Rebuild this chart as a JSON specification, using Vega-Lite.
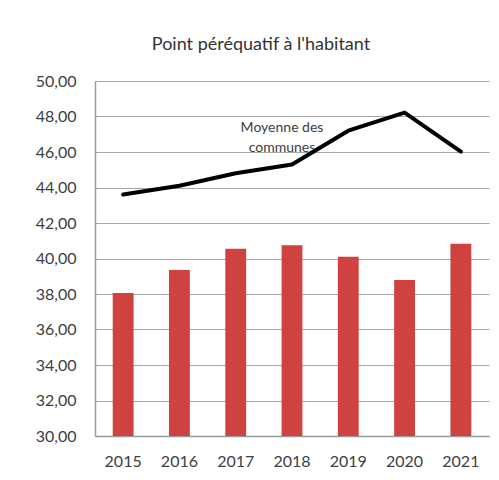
{
  "$schema": "https://vega.github.io/schema/vega-lite/v6.json",
  "width": 394,
  "height": 355,
  "autosize": "none",
  "padding": {"left": 95, "top": 81, "right": 10, "bottom": 44},
  "background": "white",
  "config": {
    "locale": {"number": {"decimal": ",", "thousands": " ", "grouping": [3], "currency": ["", " €"]}},
    "font": "Lato",
    "view": {"stroke": null},
    "axisY": {
      "format": ".2f",
      "labelOverlap": false,
      "labelFontSize": 16,
      "labelColor": "#404040",
      "labelPadding": 19,
      "ticks": false,
      "grid": true,
      "gridColor": "#a6a6a6",
      "gridWidth": 1.2,
      "domainColor": "#9a9a9a",
      "domainWidth": 1.5
    }
  },
  "title": {
    "text": "Point péréquatif à l'habitant",
    "fontSize": 18,
    "fontWeight": "normal",
    "color": "#333333",
    "anchor": "middle",
    "dx": -31,
    "baseline": "alphabetic",
    "offset": 5
  },
  "data": {
    "values": [
      {"annee": "2015", "commune": 38.06, "moyenne": 43.6},
      {"annee": "2016", "commune": 39.35, "moyenne": 44.1},
      {"annee": "2017", "commune": 40.55, "moyenne": 44.8},
      {"annee": "2018", "commune": 40.74, "moyenne": 45.3},
      {"annee": "2019", "commune": 40.1, "moyenne": 47.2},
      {"annee": "2020", "commune": 38.79, "moyenne": 48.22},
      {"annee": "2021", "commune": 40.83, "moyenne": 46.02}
    ]
  },
  "encoding": {
    "x": {
      "field": "annee",
      "type": "ordinal",
      "title": null,
      "scale": {"paddingInner": 0.63, "paddingOuter": 0.315},
      "axis": {
        "labelAngle": 0,
        "labelFontSize": 16,
        "labelColor": "#404040",
        "labelPadding": 17,
        "ticks": false,
        "domainColor": "#9a9a9a",
        "domainWidth": 1.5
      }
    }
  },
  "layer": [
    {
      "mark": {"type": "bar", "color": "#d0423f"},
      "encoding": {
        "y": {
          "field": "commune",
          "type": "quantitative",
          "title": null,
          "scale": {"domain": [30, 50], "nice": false, "zero": false},
          "axis": {"values": [30, 32, 34, 36, 38, 40, 42, 44, 46, 48, 50]}
        },
        "y2": {"datum": 30}
      }
    },
    {
      "data": {"values": [{"annee": "2018", "valeur": 47.37, "label": "Moyenne des\ncommunes"}]},
      "mark": {"type": "text", "fontSize": 14, "color": "#404040", "lineBreak": "\n", "lineHeight": 20, "baseline": "middle", "dx": -10},
      "encoding": {
        "y": {"field": "valeur", "type": "quantitative", "title": null, "axis": {"values": [30, 32, 34, 36, 38, 40, 42, 44, 46, 48, 50]}},
        "text": {"field": "label"}
      }
    },
    {
      "mark": {"type": "line", "color": "black", "strokeWidth": 4, "strokeCap": "round", "strokeJoin": "round"},
      "encoding": {
        "y": {"field": "moyenne", "type": "quantitative", "title": null, "axis": {"values": [30, 32, 34, 36, 38, 40, 42, 44, 46, 48, 50]}}
      }
    }
  ]
}
